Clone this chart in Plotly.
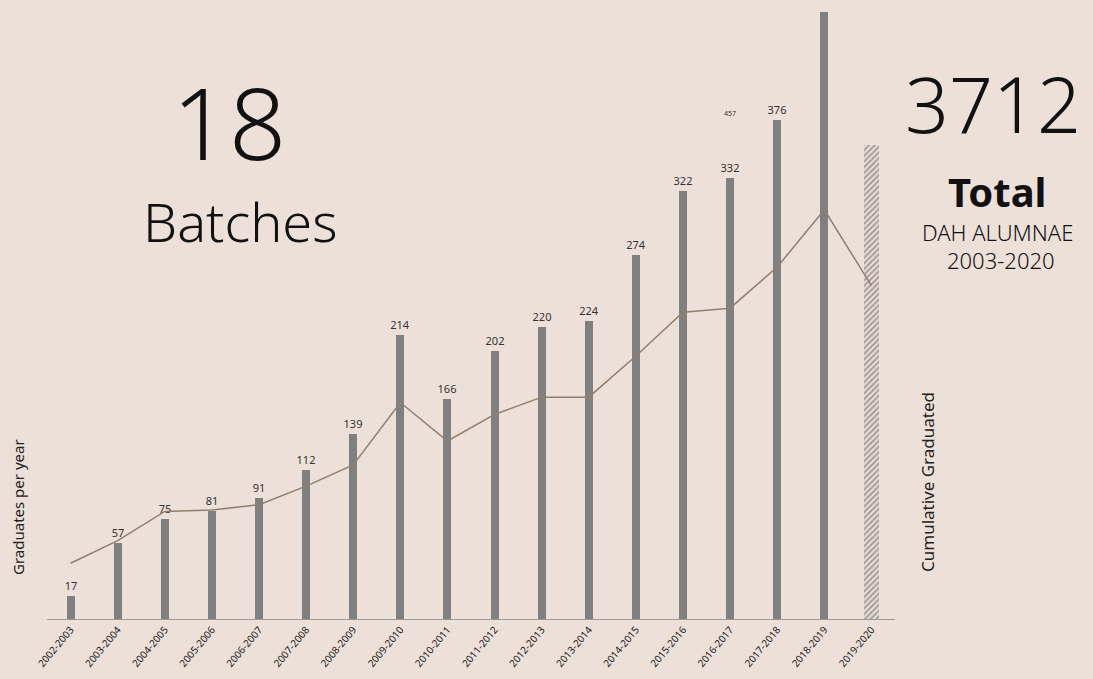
import plotly.graph_objects as go

categories = ["2002-2003", "2003-2004", "2004-2005", "2005-2006", "2006-2007", "2007-2008",
              "2008-2009", "2009-2010", "2010-2011", "2011-2012", "2012-2013", "2013-2014",
              "2014-2015", "2015-2016", "2016-2017", "2017-2018", "2018-2019", "2019-2020"]
graduates = [17, 57, 75, 81, 91, 112, 139, 214, 166, 202, 220, 224, 274, 322, 332, 376, 457, None]
bar_labels = ["17", "57", "75", "81", "91", "112", "139", "214", "166", "202", "220", "224",
              "274", "322", "332", "376", "", ""]
pending_value = 357  # hatched 2019-2020 bar
cumulative_line = [42, 59, 81, 82, 86, 100, 116, 163, 134, 154, 167, 167, 198, 231, 234, 265, 308, 251]
total_alumnae = "3712"
batches = "18"

BG = "#ede0d9"
FONT = "Noto Sans"
idx = list(range(len(categories)))

fig = go.Figure()
fig.add_trace(go.Bar(
    x=idx[:-1], y=graduates[:-1], width=0.17,
    marker=dict(color="#808080", line=dict(width=0)),
    text=bar_labels[:-1], textposition="outside", cliponaxis=False, constraintext="none",
    textfont=dict(family=FONT, size=11, color="#333333"),
    showlegend=False, hoverinfo="x+y"))
fig.add_trace(go.Bar(
    x=[idx[-1]], y=[pending_value], width=0.32,
    marker=dict(color="rgba(0,0,0,0)", line=dict(width=0),
                pattern=dict(shape="/", fgcolor="#5a5a5a", bgcolor="rgba(0,0,0,0)",
                             size=4, solidity=0.5)),
    showlegend=False))
fig.add_trace(go.Scatter(
    x=idx, y=cumulative_line, mode="lines", yaxis="y2",
    line=dict(color="#8f7f6f", width=1.5), showlegend=False))

fig.add_annotation(x=14, y=graduates[15], text="457", showarrow=False,
                   font=dict(family=FONT, size=7, color="#333333"), yanchor="bottom")

def txt(s, px, py, size, weight=None, angle=0, color="#111111"):
    f = dict(family=FONT, size=size, color=color)
    if weight:
        f["weight"] = weight
    fig.add_annotation(xref="paper", yref="paper", x=(px - 47) / 848, y=(619 - py) / 619,
                       text=s, showarrow=False, xanchor="center", yanchor="middle",
                       textangle=angle, font=f)

txt(batches, 229, 121, 100, 300)
txt("Batches", 240, 221, 54, 300)
txt(total_alumnae, 993, 104, 77, 300)
txt("Total", 997, 191, 40, 700)
txt("DAH ALUMNAE", 998, 232, 22, 300)
txt("2003-2020", 1001, 260, 22, 300)
txt("Graduates per year", 18, 507, 15, None, -90, "#222222")
txt("Cumulative Graduated", 927, 482, 17, None, -90, "#222222")

fig.update_layout(
    width=1093, height=679, paper_bgcolor=BG, plot_bgcolor=BG,
    margin=dict(l=47, r=198, t=0, b=60), bargap=0, barmode="overlay",
    xaxis=dict(range=[-0.5, 17.5], tickmode="array", tickvals=idx, ticktext=categories,
               tickangle=-50, tickfont=dict(family=FONT, size=10, color="#222222"),
               showline=True, linecolor="#9a9a9a", linewidth=1, showgrid=False,
               zeroline=False, ticks=""),
    yaxis=dict(range=[0, 466], visible=False, showgrid=False),
    yaxis2=dict(range=[0, 466], overlaying="y", visible=False, showgrid=False),
)
fig.write_html("out.html", config={"displayModeBar": False},
               post_script="document.body.style.margin='0';document.body.style.background='%s';" % BG)
